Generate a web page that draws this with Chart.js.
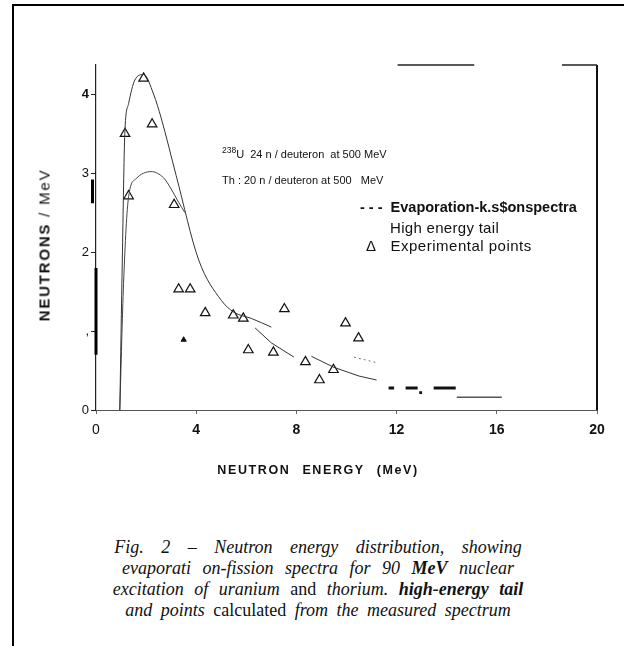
<!DOCTYPE html>
<html>
<head>
<meta charset="utf-8">
<script src="https://cdn.jsdelivr.net/npm/chart.js@4.4.1/dist/chart.umd.min.js"></script>
<style>
  html, body { margin: 0; padding: 0; background: #fff; }
  #page { position: relative; width: 624px; height: 646px; overflow: hidden;
          font-family: "Liberation Sans", Arial, sans-serif; color: #111; }
  #frame { position: absolute; left: 12px; top: 4px; right: -4px; bottom: -4px;
           border-top: 2px solid #000; border-left: 2px solid #000; }
  #wrap { position: absolute; left: 0; top: 0; width: 624px; height: 500px; }
  .txt { position: absolute; white-space: nowrap; line-height: 1; }
  .ytitle { left: 44px; top: 245px; font-size: 15px; letter-spacing: 1.8px;
            transform: translate(-50%, -50%) rotate(-90deg); }
  .xtitle { left: 318px; top: 470px; font-size: 12.5px; font-weight: bold;
            letter-spacing: 1.6px; word-spacing: 7px; transform: translate(-50%, -50%); }
  .note { font-size: 11px; }
  .note sup { font-size: 8.5px; vertical-align: 5px; }
  .leg { font-size: 15px; }
  .cap { left: 0; width: 636px; text-align: center; font-family: "Liberation Serif", "Times New Roman", serif;
         font-style: italic; font-size: 18px; color: #111; }
</style>
</head>
<body>
<div id="page">
  <div id="frame"></div>
  <div id="wrap"><canvas id="chart" width="624" height="500"></canvas></div>

  <div class="txt ytitle"><b>NEUTRONS</b> / MeV</div>
  <div class="txt xtitle">NEUTRON ENERGY (MeV)</div>

  <div class="txt note" style="left:222px; top:146px;"><sup>238</sup>U&nbsp; 24 n / deuteron&nbsp; at 500 MeV</div>
  <div class="txt note" style="left:222px; top:175px;">Th : 20 n / deuteron at 500 &nbsp; MeV</div>

  <div class="txt leg" style="left:360px; top:200px; font-weight:bold; font-size:14.5px;">- - -&nbsp; Evaporation-k.s$onspectra</div>
  <div class="txt leg" style="left:390px; top:220px; letter-spacing:0.3px;">High energy tail</div>
  <div class="txt leg" style="left:366px; top:238px; letter-spacing:0.5px;">Δ&nbsp;&nbsp; Experimental points</div>

  <div class="txt cap" style="top:538px; word-spacing:13px;">Fig. 2 – Neutron energy distribution, showing</div>
  <div class="txt cap" style="top:559px; word-spacing:7px;">evaporati on-fission spectra for 90 <b>MeV</b> nuclear</div>
  <div class="txt cap" style="top:580px; word-spacing:6px;">excitation of uranium <span style="font-style:normal">and</span> thorium. <b>high-energy tail</b></div>
  <div class="txt cap" style="top:601px; word-spacing:4px;">and points <span style="font-style:normal">calculated</span> from the measured spectrum</div>
</div>

<script>
// Axis ticks
const xTicks = [0, 4, 8, 12, 16, 20];
const yTicks = [0, 1, 2, 3, 4];
const yTickLabels = ["0", ",", "2", "3", "4"];

// 238U evaporation-fission curve
const uEnergy = [0.95, 1.05, 1.15, 1.3, 1.55, 1.9, 2.3, 2.6, 3.2, 4.1, 5.0, 5.5, 6.2, 7.0];
const uNeutrons = [0, 1.9, 3.5, 3.88, 4.18, 4.25, 4.0, 3.7, 2.97, 1.9, 1.39, 1.24, 1.16, 1.05];

// Th evaporation-fission curve
const thEnergy = [0.95, 1.1, 1.3, 1.6, 2.2, 2.7, 3.0, 3.3, 3.55];
const thNeutrons = [0, 1.6, 2.7, 2.93, 3.02, 2.94, 2.8, 2.63, 2.5];

// High energy tail (solid, with a gap)
const tailEnergy = [6.35, 7.0, 7.9, 8.2, 8.6, 9.5, 10.5, 11.2];
const tailNeutrons = [1.04, 0.85, 0.67, null, 0.68, 0.54, 0.43, 0.38];

// dotted tail piece
const dotEnergy = [10.3, 11.2];
const dotNeutrons = [0.67, 0.6];

// dashed tail near zero
const dashEnergy = [11.68, 11.9, 12.1, 12.36, 12.84, 13.1, 13.48, 14.36];
const dashNeutrons = [0.28, 0.28, null, 0.28, 0.28, null, 0.28, 0.28];
const dashDotEnergy = [12.96];
const dashDotNeutrons = [0.22];

// flat line at the far end
const flatEnergy = [14.4, 16.2];
const flatNeutrons = [0.16, 0.16];

// experimental points
const ptEnergy = [1.16, 1.3, 1.9, 2.24, 3.12, 3.3, 3.76, 4.36, 5.48, 5.88, 6.08, 7.08, 7.52, 8.36, 8.92, 9.48, 9.96, 10.48];
const ptNeutrons = [3.5, 2.71, 4.2, 3.62, 2.6, 1.53, 1.53, 1.23, 1.2, 1.16, 0.76, 0.73, 1.28, 0.61, 0.38, 0.51, 1.1, 0.91];
const smallPtEnergy = [3.5];
const smallPtNeutrons = [0.89];

// frame pieces of the plot box
const topEnergy = [12.04, 15.1, 16, 18.6, 20];
const topNeutrons = [4.37, 4.37, null, 4.37, 4.37];
const rightEnergy = [20, 20];
const rightNeutrons = [0, 4.37];
const axisMarkEnergy = [0, 0, 0.5, -0.14, -0.14];
const axisMarkNeutrons = [0.7, 1.8, null, 2.62, 2.92];

// Helper to zip x/y arrays into point objects
function pts(xs, ys) {
  return xs.map((x, i) => ({ x: x, y: ys[i] }));
}

function lineSet(xs, ys, opts) {
  return Object.assign({
    type: "line",
    data: pts(xs, ys),
    borderColor: "#222",
    borderWidth: 1,
    pointRadius: 0,
    fill: false,
    spanGaps: false,
    clip: false
  }, opts);
}

const ctx = document.getElementById("chart").getContext("2d");
new Chart(ctx, {
  type: "scatter",
  data: {
    datasets: [
      lineSet(uEnergy, uNeutrons, { cubicInterpolationMode: "monotone", borderColor: "#333" }),
      lineSet(thEnergy, thNeutrons, { cubicInterpolationMode: "monotone", borderColor: "#444" }),
      lineSet(tailEnergy, tailNeutrons, { borderColor: "#333" }),
      lineSet(dotEnergy, dotNeutrons, { borderColor: "#777", borderDash: [2, 3] }),
      lineSet(dashEnergy, dashNeutrons, { borderColor: "#111", borderWidth: 3 }),
      lineSet(flatEnergy, flatNeutrons, { borderColor: "#555", borderWidth: 1.5 }),
      lineSet(topEnergy, topNeutrons, { borderColor: "#222", borderWidth: 1.5 }),
      lineSet(rightEnergy, rightNeutrons, { borderColor: "#111", borderWidth: 2 }),
      lineSet(axisMarkEnergy, axisMarkNeutrons, { borderColor: "#000", borderWidth: 3 }),
      {
        data: pts(dashDotEnergy, dashDotNeutrons),
        pointStyle: "rect", pointRadius: 2, backgroundColor: "#111", borderWidth: 0
      },
      {
        data: pts(ptEnergy, ptNeutrons),
        pointStyle: "triangle", pointRadius: 5.5,
        borderColor: "#111", borderWidth: 1.2, backgroundColor: "rgba(255,255,255,0)"
      },
      {
        data: pts(smallPtEnergy, smallPtNeutrons),
        pointStyle: "triangle", pointRadius: 3,
        borderColor: "#111", borderWidth: 1, backgroundColor: "#111"
      }
    ]
  },
  options: {
    responsive: false,
    animation: false,
    layout: { padding: { top: 65, right: 27, left: 0, bottom: 0 } },
    plugins: { legend: { display: false }, tooltip: { enabled: false } },
    scales: {
      x: {
        type: "linear",
        min: 0, max: 20,
        afterFit: s => { s.height = 90; },
        afterBuildTicks: s => { s.ticks = xTicks.map(v => ({ value: v })); },
        border: { display: true, color: "#555", width: 1, dash: [34, 9] },
        grid: { drawOnChartArea: false, drawTicks: true, tickLength: 4, color: "#666" },
        ticks: {
          color: "#111",
          padding: 8,
          font: c => ({ family: "Liberation Sans", size: 14, weight: c.tick && c.tick.value === 0 ? "normal" : "bold" })
        }
      },
      y: {
        type: "linear",
        min: 0, max: 4.37,
        afterFit: s => { s.width = 96; },
        afterBuildTicks: s => { s.ticks = yTicks.map(v => ({ value: v })); },
        border: { display: true, color: "#222", width: 1.2 },
        grid: { drawOnChartArea: false, drawTicks: true, tickLength: 5, color: "#222" },
        ticks: {
          color: "#111",
          padding: 2,
          callback: v => yTickLabels[yTicks.indexOf(v)] ?? "",
          font: c => ({ family: "Liberation Sans", size: 13, weight: c.tick && c.tick.value === 4 ? "bold" : "normal" })
        }
      }
    }
  }
});
</script>
</body>
</html>
